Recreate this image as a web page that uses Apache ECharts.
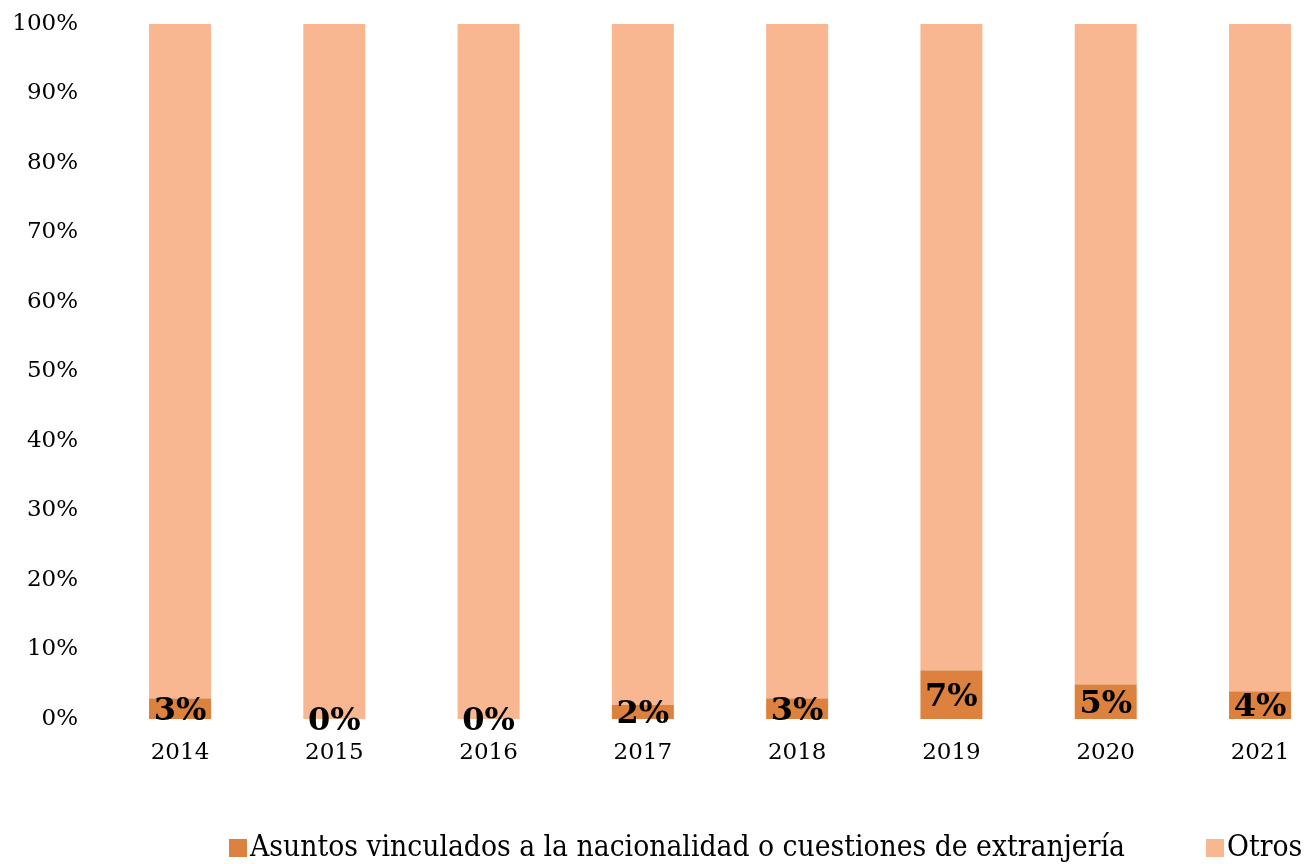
<!DOCTYPE html>
<html><head><meta charset="utf-8">
<script src="https://cdn.jsdelivr.net/npm/echarts@6/dist/echarts.min.js"></script>
<style>html,body{margin:0;padding:0;background:#fff}#c{width:1307px;height:864px}</style>
</head><body><div id="c"></div>
<script>
const categories = ['2014','2015','2016','2017','2018','2019','2020','2021'];
const asuntos = [3, 0, 0, 2, 3, 7, 5, 4];
const otros = [97, 100, 100, 98, 97, 93, 95, 96];
const seriesNames = ['Asuntos vinculados a la nacionalidad o cuestiones de extranjería', 'Otros'];
const yTicks = [0, 10, 20, 30, 40, 50, 60, 70, 80, 90, 100];

const serif = 'DejaVu Serif';
const legendText = { fontFamily: 'DejaVu Serif Condensed', fontSize: 29.7, color: '#000', padding: [0,0,0,-2] };
const chart = echarts.init(document.getElementById('c'));
chart.setOption({
  animation: false,
  grid: { left: 180, top: 24, width: 1080, bottom: 145, containLabel: false },
  legend: [
    { left: 224, top: 828, itemWidth: 18, itemHeight: 18, icon: 'rect',
      textStyle: legendText, data: [seriesNames[0]] },
    { left: 1201, top: 828, itemWidth: 18, itemHeight: 18, icon: 'rect',
      textStyle: legendText, data: [seriesNames[1]] }
  ],
  xAxis: {
    type: 'category', data: categories, boundaryGap: false,
    axisLine: { show: false }, axisTick: { show: false },
    axisLabel: { fontFamily: serif, fontSize: 23, color: '#000', margin: 23 }
  },
  yAxis: {
    type: 'value', min: yTicks[0], max: yTicks[yTicks.length-1], interval: 10,
    splitLine: { show: false }, axisLine: { show: false }, axisTick: { show: false },
    axisLabel: { fontFamily: serif, fontSize: 23, color: '#000', margin: 102, formatter: v => v + '%' }
  },
  series: [
    { name: seriesNames[0], type: 'bar', stack: 't', data: asuntos, barWidth: 62,
      itemStyle: { color: '#DC823E' },
      label: { show: true, position: 'inside', offset: [0, 3], formatter: p => p.value + '%',
        fontFamily: serif, fontWeight: 'bold', fontSize: 32, color: '#000' } },
    { name: seriesNames[1], type: 'bar', stack: 't', data: otros, barWidth: 62,
      itemStyle: { color: '#F8B691' } }
  ]
});
</script></body></html>
